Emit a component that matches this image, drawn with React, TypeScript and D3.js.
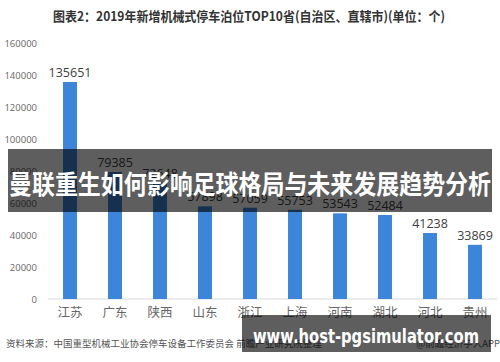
import React from "react";
import * as d3 from "d3";

const provinces = ["江苏", "广东", "陕西", "山东", "浙江", "上海", "河南", "湖北", "河北", "贵州"];
const values = [135651, 79385, 72648, 57898, 57059, 55753, 53543, 52484, 41238, 33869];
const yTicks = [0, 20000, 40000, 60000, 80000, 100000, 120000, 140000, 160000];

const titleText = "图表2：2019年新增机械式停车泊位TOP10省(自治区、直辖市)(单位：个)";
const bannerText = "曼联重生如何影响足球格局与未来发展趋势分析";
const sourceText = "资料来源：中国重型机械工业协会停车设备工作委员会 前瞻产业研究院整理";
const creditText = "@前瞻经济学人APP";
const urlText = "www.host-pgsimulator.com";

const W = 500;
const H = 362;
const CJK = "'Noto Sans CJK SC', 'Noto Sans', sans-serif";
const NUM = "'Open Sans', 'Noto Sans', sans-serif";

export default function App() {
  const x = d3.scaleBand<string>().domain(provinces).range([47.5, 497.5]).paddingInner(0.69).paddingOuter(0.345);
  const y = d3.scaleLinear().domain([0, 160000]).range([299, 43]);

  return (
    <svg width={W} height={H} style={{ position: "absolute", left: 0, top: 0, background: "#fff" }}>
      <rect x={0} y={0} width={W} height={H} fill="#fff" />
      <text
        x={249}
        y={21}
        textAnchor="middle"
        fontFamily={CJK}
        fontWeight="bold"
        fontSize={13}
        fill="#333"
        textLength={392}
        lengthAdjust="spacingAndGlyphs"
      >
        {titleText}
      </text>
      {yTicks.map((t) => (
        <text key={t} x={37} y={y(t) + 3.5} textAnchor="end" fontFamily={NUM} fontSize={9.5} fill="#666">
          {t}
        </text>
      ))}
      <line x1={47.5} x2={497} y1={y(0)} y2={y(0)} stroke="#d9d9d9" strokeWidth={1} />
      {provinces.map((p, i) => (
        <g key={p}>
          <rect x={x(p)} y={y(values[i])} width={x.bandwidth()} height={y(0) - y(values[i])} fill="#3d85d8" />
          <text
            x={(x(p) as number) + x.bandwidth() / 2}
            y={y(values[i]) - 5}
            textAnchor="middle"
            fontFamily={NUM}
            fontSize={12.5}
            fill="#404040"
          >
            {values[i]}
          </text>
          <text
            x={(x(p) as number) + x.bandwidth() / 2}
            y={317}
            textAnchor="middle"
            fontFamily={CJK}
            fontSize={12.5}
            fill="#666"
          >
            {p}
          </text>
        </g>
      ))}
      <text x={6} y={347} fontFamily={CJK} fontSize={9.5} fill="#555">
        {sourceText}
      </text>
      <text x={500} y={347} textAnchor="end" fontFamily={CJK} fontSize={9.5} fill="#555">
        {creditText}
      </text>
      <rect x={8} y={149} width={484} height={63} fill="#000" fillOpacity={0.63} />
      <text
        x={250}
        y={194}
        textAnchor="middle"
        fontFamily={CJK}
        fontWeight="bold"
        fontSize={26}
        fill="#fff"
        textLength={482}
        lengthAdjust="spacingAndGlyphs"
      >
        {bannerText}
      </text>
      <rect x={242} y={315} width={249} height={37} fill="#000" fillOpacity={0.63} />
      <text
        x={366}
        y={343}
        textAnchor="middle"
        fontFamily="'DejaVu Sans', sans-serif"
        fontWeight="bold"
        fontSize={19}
        fill="#fff"
        textLength={226}
        lengthAdjust="spacingAndGlyphs"
      >
        {urlText}
      </text>
    </svg>
  );
}
